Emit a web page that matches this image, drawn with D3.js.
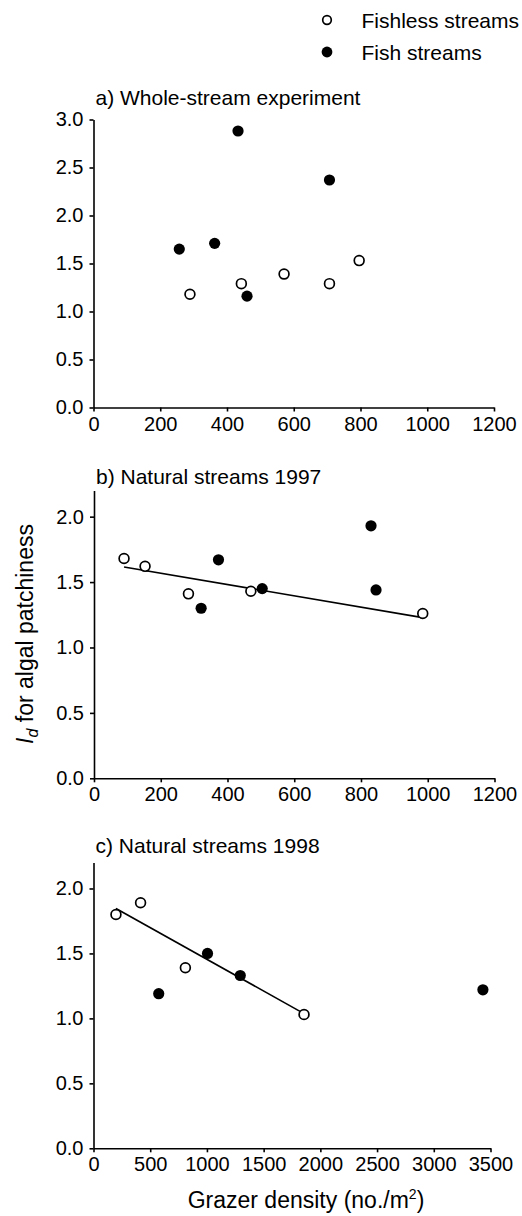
<!DOCTYPE html>
<html>
<head>
<meta charset="utf-8">
<script src="https://cdn.jsdelivr.net/npm/d3@7"></script>
<style>
  html, body { margin: 0; padding: 0; background: #fff; }
  svg { display: block; }
  text { font-family: "Liberation Sans", Arial, Helvetica, sans-serif; fill: #000; }
</style>
</head>
<body>
<svg id="chart" width="522" height="1216"></svg>
<script>
// ---------- DATA ----------
const legendLabels = ["Fishless streams", "Fish streams"];
const panelTitles = ["a) Whole-stream experiment", "b) Natural streams 1997", "c) Natural streams 1998"];

// Panel a
const aXTicks = [0, 200, 400, 600, 800, 1000, 1200];
const aYTicks = [0.0, 0.5, 1.0, 1.5, 2.0, 2.5, 3.0];
const aFishlessX = [289, 443, 571, 707, 796];
const aFishlessY = [1.18, 1.29, 1.39, 1.29, 1.53];
const aFishX = [257, 363, 433, 460, 707];
const aFishY = [1.65, 1.71, 2.88, 1.16, 2.37];

// Panel b
const bXTicks = [0, 200, 400, 600, 800, 1000, 1200];
const bYTicks = [0.0, 0.5, 1.0, 1.5, 2.0];
const bFishlessX = [90, 153, 283, 470, 985];
const bFishlessY = [1.68, 1.62, 1.41, 1.43, 1.26];
const bFishX = [321, 373, 504, 830, 845];
const bFishY = [1.30, 1.67, 1.45, 1.93, 1.44];
const bLineX = [90, 985];
const bLineY = [1.615, 1.228];

// Panel c
const cXTicks = [0, 500, 1000, 1500, 2000, 2500, 3000, 3500];
const cYTicks = [0.0, 0.5, 1.0, 1.5, 2.0];
const cFishlessX = [198, 415, 810, 1856];
const cFishlessY = [1.80, 1.89, 1.39, 1.03];
const cFishX = [575, 1005, 1294, 3433];
const cFishY = [1.19, 1.50, 1.33, 1.22];
const cLineX = [198, 1856];
const cLineY = [1.846, 1.037];

const yAxisTitle = ["I", "d", " for algal patchiness"];
const xAxisTitle = ["Grazer density (no./m", "2", ")"];

// ---------- DRAW ----------
const svg = d3.select("#chart");
const zip = (xs, ys) => xs.map((x, i) => [x, ys[i]]);

const panels = [
  { title: panelTitles[0], titleY: 105, xDom: [0, 1200], xR: [93.5, 494], yDom: [0, 3], yR: [407.5, 119.5],
    xT: aXTicks, yT: aYTicks, open: zip(aFishlessX, aFishlessY), fill: zip(aFishX, aFishY), line: null },
  { title: panelTitles[1], titleY: 484, xDom: [0, 1200], xR: [94, 494.5], yDom: [0, 2.2], yR: [778.3, 490.5],
    xT: bXTicks, yT: bYTicks, open: zip(bFishlessX, bFishlessY), fill: zip(bFishX, bFishY), line: zip(bLineX, bLineY) },
  { title: panelTitles[2], titleY: 853, xDom: [0, 3500], xR: [93.5, 490.5], yDom: [0, 2.2], yR: [1148.3, 862.5],
    xT: cXTicks, yT: cYTicks, open: zip(cFishlessX, cFishlessY), fill: zip(cFishX, cFishY), line: zip(cLineX, cLineY) }
];

panels.forEach(p => {
  const x = d3.scaleLinear().domain(p.xDom).range(p.xR);
  const y = d3.scaleLinear().domain(p.yDom).range(p.yR);
  const g = svg.append("g");

  const xa = g.append("g").attr("transform", `translate(0,${p.yR[0]})`)
    .call(d3.axisBottom(x).tickValues(p.xT).tickFormat(d3.format("d")).tickSize(4).tickSizeOuter(0).tickPadding(5));
  const ya = g.append("g").attr("transform", `translate(${p.xR[0]},0)`)
    .call(d3.axisLeft(y).tickValues(p.yT).tickFormat(d3.format(".1f")).tickSize(4).tickSizeOuter(0).tickPadding(6));
  [xa, ya].forEach(a => {
    a.selectAll("path.domain").attr("stroke", "#000").attr("stroke-width", 1.6);
    a.selectAll(".tick line").attr("stroke", "#000").attr("stroke-width", 1.6);
    a.selectAll(".tick text").attr("font-size", 20).attr("font-family", "Liberation Sans, Arial, sans-serif");
  });

  g.append("text").attr("x", p.xR[0] + 2).attr("y", p.titleY).attr("font-size", 21).text(p.title);

  if (p.line) {
    g.append("path").attr("d", d3.line().x(d => x(d[0])).y(d => y(d[1]))(p.line))
      .attr("stroke", "#000").attr("stroke-width", 1.6).attr("fill", "none");
  }
  g.selectAll("circle.open").data(p.open).join("circle").attr("class", "open")
    .attr("cx", d => x(d[0])).attr("cy", d => y(d[1])).attr("r", 4.9)
    .attr("fill", "#fff").attr("stroke", "#000").attr("stroke-width", 1.7);
  g.selectAll("circle.fill").data(p.fill).join("circle").attr("class", "fill")
    .attr("cx", d => x(d[0])).attr("cy", d => y(d[1])).attr("r", 5.6)
    .attr("fill", "#000");
});

// Legend
const leg = svg.append("g");
leg.append("circle").attr("cx", 327).attr("cy", 20).attr("r", 4.3)
  .attr("fill", "#fff").attr("stroke", "#000").attr("stroke-width", 1.7);
leg.append("circle").attr("cx", 327).attr("cy", 52).attr("r", 5.4).attr("fill", "#000");
leg.append("text").attr("x", 361.5).attr("y", 27.5).attr("font-size", 21).text(legendLabels[0]);
leg.append("text").attr("x", 361.5).attr("y", 59.5).attr("font-size", 21).text(legendLabels[1]);

// Y axis title
const yt = svg.append("text").attr("transform", "translate(33,634) rotate(-90)")
  .attr("text-anchor", "middle").attr("font-size", 23);
yt.append("tspan").attr("font-style", "italic").text(yAxisTitle[0]);
yt.append("tspan").attr("font-style", "italic").attr("font-size", 16).attr("dy", 5).text(yAxisTitle[1]);
yt.append("tspan").attr("dy", -5).text(yAxisTitle[2]);

// X axis title
const xt = svg.append("text").attr("x", 306).attr("y", 1208)
  .attr("text-anchor", "middle").attr("font-size", 23);
xt.append("tspan").text(xAxisTitle[0]);
xt.append("tspan").attr("font-size", 14).attr("dy", -9).text(xAxisTitle[1]);
xt.append("tspan").attr("dy", 9).text(xAxisTitle[2]);
</script>
</body>
</html>
